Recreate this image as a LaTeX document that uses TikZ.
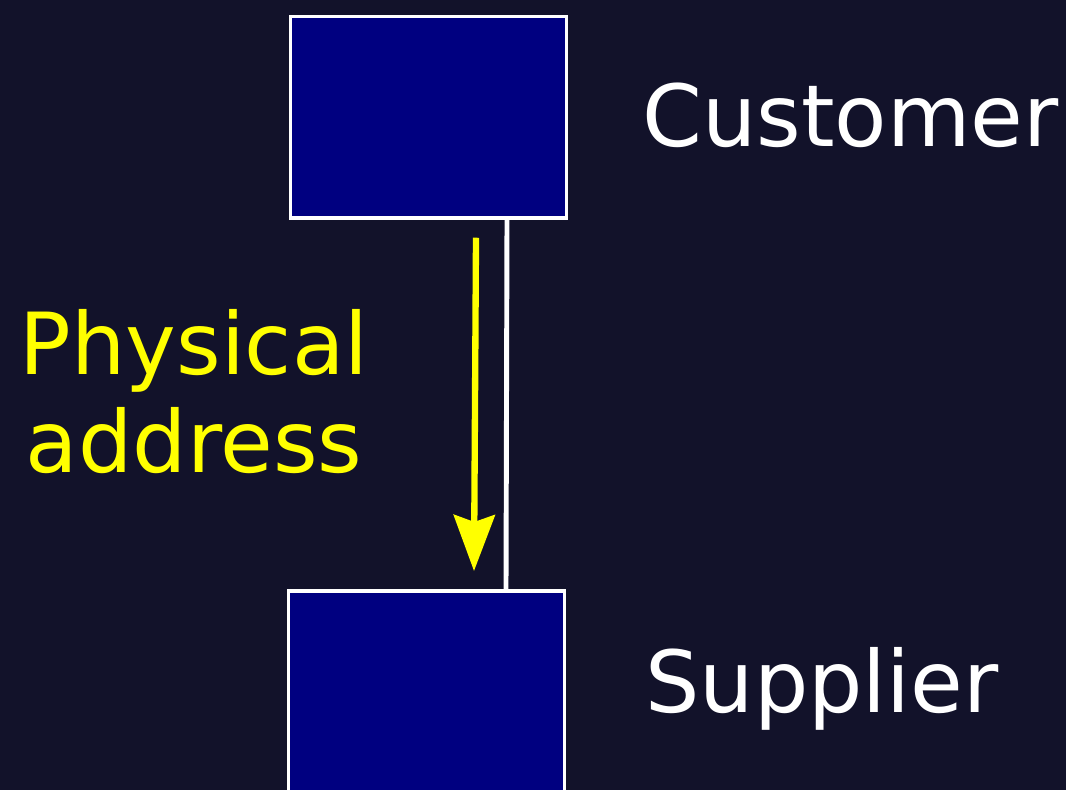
\documentclass[tikz,border=0pt]{standalone}
\usepackage{fontspec}
\setmainfont{DejaVu Sans}
\usetikzlibrary{arrows.meta,positioning}
\definecolor{bgnavy}{HTML}{12122A}
\definecolor{boxnavy}{HTML}{000080}
\definecolor{addryellow}{HTML}{FFFF00}

\begin{document}
\begin{tikzpicture}
[partybox/.style={rectangle, draw=white, line width=2pt, fill=boxnavy, inner sep=0, minimum width=5.52cm, minimum height=4.03cm},
partylabel/.style={white, inner sep=0, anchor=base west, font=\fontsize{48.75}{55.6}\selectfont},
addrlabel/.style={addryellow, inner sep=0, align=center, font=\fontsize{48.75}{55.6}\selectfont},
]
\clip (0,0) rectangle (21.32,15.8);
\fill[bgnavy] (0,0) rectangle (21.32,15.8);
%customer
\node[partybox](cust) at (8.57, 13.455) {};
\node[partylabel](custlbl) at (12.84, 12.86) {Customer};
%supplier
\node[partybox, minimum height=4.4cm, anchor=north](supp) at (8.53, 4.01) {};
\node[partylabel](supplbl) at (12.9, 1.54) {Supplier};
% address
\node[addrlabel](addr) at (3.88, 7.97) {Physical\\address};
%draw line
\draw[white, line width=2.8pt] ([xshift=1.57cm]cust.south) -- ([xshift=1.59cm]supp.north);
\draw[addryellow, line width=3.6pt, -{Stealth[length=1.12cm, width=0.82cm, inset=0.14cm]}] ([xshift=0.95cm, yshift=-0.36cm]cust.south) -- ([xshift=0.95cm, yshift=0.37cm]supp.north);
\end{tikzpicture}
\end{document}
